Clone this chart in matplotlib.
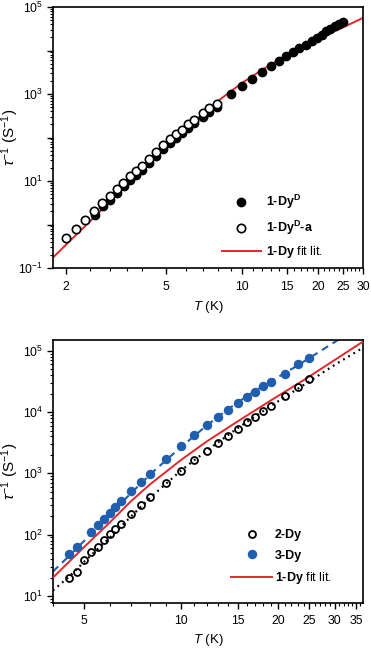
import numpy as np
import matplotlib
matplotlib.use("Agg")
import matplotlib.pyplot as plt
from matplotlib.ticker import LogLocator, FixedLocator, FixedFormatter, NullFormatter, FuncFormatter

plt.rcParams['font.family'] = ['Liberation Sans', 'DejaVu Sans']
plt.rcParams['mathtext.fontset'] = 'custom'
plt.rcParams['mathtext.rm'] = 'Liberation Sans'
plt.rcParams['mathtext.it'] = 'Liberation Sans:italic'
plt.rcParams['mathtext.bf'] = 'Liberation Sans:bold'

# ---------------- top panel data ----------------
T_1DyD = [2.6, 2.8, 3.0, 3.2, 3.4, 3.6, 3.8, 4.0, 4.27, 4.57, 4.85, 5.15, 5.47, 5.78, 6.08,
          6.46, 6.98, 7.4, 7.94, 9.0, 10.0, 10.96, 11.98, 12.96, 13.9, 14.9, 15.9, 16.8,
          17.9, 18.8, 19.8, 20.7, 21.5, 22.2, 23.2, 24.0, 25.0]
rate_1DyD = [1.65, 2.6, 3.7, 5.3, 7.5, 10.6, 13.9, 18, 26, 38, 54, 74, 97, 125, 165,
             212, 300, 395, 490, 980, 1550, 2230, 3160, 4340, 5660, 7400, 9100, 11200,
             13600, 16300, 19400, 23000, 27700, 31600, 36000, 41000, 45700]

T_1DyDa = [2.0, 2.19, 2.39, 2.59, 2.79, 2.99, 3.18, 3.38, 3.59, 3.79, 4.0, 4.27, 4.57,
           4.85, 5.15, 5.47, 5.78, 6.08, 6.46, 6.98, 7.4, 7.94]
rate_1DyDa = [0.5, 0.78, 1.26, 2.0, 3.2, 4.5, 6.4, 9.1, 12.9, 16.9, 22, 32, 46,
              66, 90, 118, 152, 200, 259, 369, 480, 590]

T_fit_top = [1.78, 2, 2.5, 3, 3.5, 4, 5, 6, 7, 8, 10, 12, 15, 20, 25, 30]
rate_fit_top = [0.174, 0.339, 1.20, 3.39, 8.13, 17.4, 58.9, 158, 355, 692, 1820, 3630,
                7940, 18600, 33900, 56200]

top_xticks = [2, 5, 10, 15, 20, 25, 30]
top_xticklabels = ['2', '5', '10', '15', '20', '25', '30']
top_xminor = [2.5, 3, 3.5, 4, 6, 7, 8, 9, 11, 12, 13, 14, 16, 17, 18, 19, 21, 22, 23,
              24, 26, 27, 28, 29]

# ---------------- bottom panel data ----------------
T_2Dy = [4.5, 4.75, 5, 5.25, 5.5, 5.75, 6, 6.25, 6.5, 7, 7.5, 8, 9, 10, 11, 12, 13, 14,
         15, 16, 17, 18, 19, 21, 23, 25]
rate_2Dy = [20, 24.5, 38.6, 51.6, 63, 81, 101, 126, 152, 214, 303, 406, 690, 1090, 1660,
            2300, 3160, 4080, 5240, 6780, 8400, 10500, 12600, 18300, 25900, 34000]

T_3Dy = [4.5, 4.75, 5.25, 5.5, 5.75, 6, 6.25, 6.5, 7, 7.5, 8, 9, 10, 11, 12, 13, 14, 15,
         16, 17, 18, 19, 21, 23, 25]
rate_3Dy = [48, 63, 109, 145, 182, 229, 288, 355, 517, 725, 990, 1690, 2800, 4220, 6060,
            8150, 10700, 14100, 17800, 21500, 26300, 30800, 42500, 60000, 77000]

T_fit_2Dy = [4, 4.5, 5, 6, 7, 8, 10, 12, 15, 19, 25, 30, 37]
rate_fit_2Dy = [12.3, 20.9, 36.3, 89.1, 200, 398, 1120, 2340, 5500, 12600, 31600, 58900, 115000]

T_fit_3Dy = [4, 4.5, 5, 5.5, 6, 7, 8, 9, 10, 12, 14, 16, 18, 20, 23, 25, 31]
rate_fit_3Dy = [25.1, 45.7, 79.4, 132, 214, 479, 955, 1660, 2690, 6030, 11200, 18200,
                26900, 37200, 57500, 75900, 155000]

T_fit_bot = [4, 5, 6, 7, 8, 10, 12, 15, 19, 24, 30, 37]
rate_fit_bot = [20.0, 63.1, 158, 355, 661, 1660, 3310, 7080, 15500, 33100, 70800, 145000]

bot_xticks = [5, 10, 15, 20, 25, 30, 35]
bot_xticklabels = ['5', '10', '15', '20', '25', '30', '35']
bot_xminor = [4, 6, 7, 8, 9, 11, 12, 13, 14, 16, 17, 18, 19, 21, 22, 23, 24, 26, 27, 28,
              29, 31, 32, 33, 34, 36]

RED = '#e3262b'
BLUE = '#1f5fae'

W, H = 371, 648
fig = plt.figure(figsize=(W / 100, H / 100), dpi=100)

def px_axes(l, t, r, b):
    return fig.add_axes([l / W, 1 - b / H, (r - l) / W, (b - t) / H])

ax1 = px_axes(53, 7, 363, 268)
ax2 = px_axes(53, 340, 363, 603)

def style(ax, xticks, xlabels, xminor, odd_only):
    ax.set_xscale('log')
    ax.set_yscale('log')
    ax.xaxis.set_major_locator(FixedLocator(xticks))
    ax.xaxis.set_major_formatter(FixedFormatter(xlabels))
    ax.xaxis.set_minor_locator(FixedLocator(xminor))
    ax.xaxis.set_minor_formatter(NullFormatter())
    ax.yaxis.set_major_locator(LogLocator(base=10, numticks=20))
    ax.yaxis.set_minor_locator(LogLocator(base=10, subs=np.arange(2, 10), numticks=20))
    ax.yaxis.set_minor_formatter(NullFormatter())

    def fmt(v, pos):
        e = int(round(np.log10(v)))
        if odd_only and e % 2 == 0:
            return ''
        return r'$\mathregular{10^{%d}}$' % e
    ax.yaxis.set_major_formatter(FuncFormatter(fmt))
    ax.tick_params(which='major', direction='out', length=4, width=1.0, labelsize=8.8,
                   top=False, right=False, pad=3)
    ax.tick_params(which='minor', direction='out', length=2.3, width=0.8,
                   top=False, right=False)
    ax.tick_params(axis='x', which='major', pad=5)
    for s in ax.spines.values():
        s.set_linewidth(1.2)
    ax.set_xlabel(r'$\mathit{T}$ (K)', fontsize=9.5)
    ax.set_ylabel(r'$\tau^{-1}$ (S$^{-1}$)', fontsize=11)

# ---- top ----
ax1.plot(T_fit_top, rate_fit_top, color=RED, lw=1.4, zorder=2, label=r'1-Dy $\mathrm{fit\ lit.}$')
ax1.plot(T_1DyD, rate_1DyD, 'o', color='black', ms=6, zorder=3, label=r'1-Dy$^{\mathbf{D}}$')
ax1.plot(T_1DyDa, rate_1DyDa, 'o', mfc='white', mec='black', mew=1.2, ms=6, zorder=4,
         label=r'1-Dy$^{\mathbf{D}}$-a')
style(ax1, top_xticks, top_xticklabels, top_xminor, True)
ax1.set_xlim(1.78, 30)
ax1.set_ylim(0.1, 1e5)
ax1.xaxis.set_label_coords(0.5, -0.118)
ax1.yaxis.set_label_coords(-0.103, 0.5)
h, l = ax1.get_legend_handles_labels()
order = [1, 2, 0]
ax1.legend([h[i] for i in order], [l[i] for i in order], loc='upper left',
           bbox_to_anchor=(222 / W, 1 - 193 / H), bbox_transform=fig.transFigure,
           frameon=False, handlelength=3.1, handletextpad=0.4,
           labelspacing=0.6, borderpad=0, borderaxespad=0,
           prop={'weight': 'bold', 'size': 9})

# ---- bottom ----
ax2.plot(T_fit_2Dy, rate_fit_2Dy, color='black', lw=1.6, ls=(0, (0.8, 1.9)), zorder=2)
ax2.plot(T_fit_3Dy, rate_fit_3Dy, color=BLUE, lw=1.5, ls=(0, (3.5, 2.5)), zorder=2)
ax2.plot(T_fit_bot, rate_fit_bot, color=RED, lw=1.4, zorder=3, label=r'1-Dy $\mathrm{fit\ lit.}$')
ax2.plot(T_2Dy, rate_2Dy, 'o', mfc='none', mec='black', mew=1.3, ms=5, zorder=4, label='2-Dy')
ax2.plot(T_3Dy, rate_3Dy, 'o', color=BLUE, ms=5.8, zorder=4, label='3-Dy')
style(ax2, bot_xticks, bot_xticklabels, bot_xminor, False)
ax2.set_xlim(4, 36.7)
ax2.set_ylim(10 ** 0.886, 10 ** 5.175)
ax2.xaxis.set_label_coords(0.5, -0.112)
ax2.yaxis.set_label_coords(-0.103, 0.5)
h, l = ax2.get_legend_handles_labels()
order = [1, 2, 0]
ax2.legend([h[i] for i in order], [l[i] for i in order], loc='upper left',
           bbox_to_anchor=(231 / W, 1 - 529 / H), bbox_transform=fig.transFigure,
           frameon=False, handlelength=3.3, handletextpad=0.2,
           labelspacing=0.7, borderpad=0, borderaxespad=0,
           prop={'weight': 'bold', 'size': 9})

fig.savefig('out.png', dpi=100)
